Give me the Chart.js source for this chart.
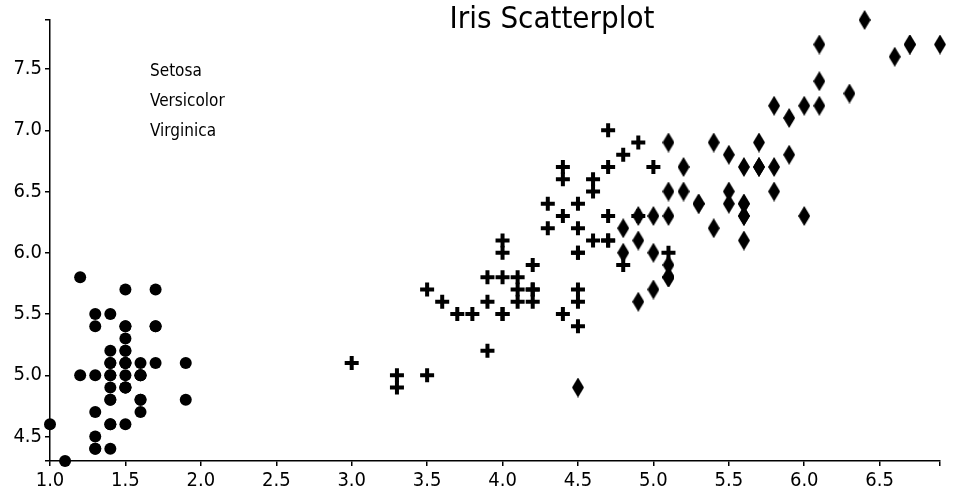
<!DOCTYPE html>
<html>
<head>
<meta charset="utf-8">
<script src="https://cdn.jsdelivr.net/npm/chart.js@4/dist/chart.umd.min.js"></script>
<style>
    html, body { margin: 0; padding: 0; background: #fff; }
    #wrap { width: 960px; height: 500px; }
</style>
</head>
<body>
<div id="wrap"><canvas id="irisChart" width="960" height="500"></canvas></div>
<script>
// petal length (x) and sepal length (y) per species
const setosaPetal = [1.4,1.4,1.3,1.5,1.4,1.7,1.4,1.5,1.4,1.5,1.5,1.6,1.4,1.1,1.2,1.5,1.3,1.4,1.7,1.5,1.7,1.5,1.0,1.7,1.9,1.6,1.6,1.5,1.4,1.6,1.6,1.5,1.5,1.4,1.5,1.2,1.3,1.5,1.3,1.5,1.3,1.3,1.3,1.6,1.9,1.4,1.6,1.4,1.5,1.4];
const setosaSepal = [5.1,4.9,4.7,4.6,5.0,5.4,4.6,5.0,4.4,4.9,5.4,4.8,4.8,4.3,5.8,5.7,5.4,5.1,5.7,5.1,5.4,5.1,4.6,5.1,4.8,5.0,5.0,5.2,5.2,4.7,4.8,5.4,5.2,5.5,4.9,5.0,5.5,4.9,4.4,5.1,5.0,4.5,4.4,5.0,5.1,4.8,5.1,4.6,5.3,5.0];

const versicolorPetal = [4.7,4.5,4.9,4.0,4.6,4.5,4.7,3.3,4.6,3.9,3.5,4.2,4.0,4.7,3.6,4.4,4.5,4.1,4.5,3.9,4.8,4.0,4.9,4.7,4.3,4.4,4.8,5.0,4.5,3.5,3.8,3.7,3.9,5.1,4.5,4.5,4.7,4.4,4.1,4.0,4.4,4.6,4.0,3.3,4.2,4.2,4.2,4.3,3.0,4.1];
const versicolorSepal = [7.0,6.4,6.9,5.5,6.5,5.7,6.3,4.9,6.6,5.2,5.0,5.9,6.0,6.1,5.6,6.7,5.6,5.8,6.2,5.6,5.9,6.1,6.3,6.1,6.4,6.6,6.8,6.7,6.0,5.7,5.5,5.5,5.8,6.0,5.4,6.0,6.7,6.3,5.6,5.5,5.5,6.1,5.8,5.0,5.6,5.7,5.7,6.2,5.1,5.7];

const virginicaPetal = [6.0,5.1,5.9,5.6,5.8,6.6,4.5,6.3,5.8,6.1,5.1,5.3,5.5,5.0,5.1,5.3,5.5,6.7,6.9,5.0,5.7,4.9,6.7,4.9,5.7,6.0,4.8,4.9,5.6,5.8,6.1,6.4,5.6,5.1,5.6,6.1,5.6,5.5,4.8,5.4,5.6,5.1,5.1,5.9,5.7,5.2,5.0,5.2,5.4,5.1];
const virginicaSepal = [6.3,5.8,7.1,6.3,6.5,7.6,4.9,7.3,6.7,7.2,6.5,6.4,6.8,5.7,5.8,6.4,6.5,7.7,7.7,6.0,6.9,5.6,7.7,6.3,6.7,7.2,6.2,6.1,6.4,7.2,7.4,7.9,6.4,6.3,6.1,7.7,6.3,6.4,6.0,6.9,6.7,6.9,5.8,6.8,6.7,6.7,6.3,6.5,6.2,5.9];

const speciesNames = ['Setosa', 'Versicolor', 'Virginica'];
const chartTitle = 'Iris Scatterplot';

const FONT = '"DejaVu Sans Condensed", "Liberation Sans Narrow", sans-serif';

// pair up two arrays into {x, y} points
function toPoints(xs, ys) {
    return xs.map((x, i) => ({ x: x, y: ys[i] }));
}

// tall thin diamond marker
function makeDiamond(w, h) {
    const c = document.createElement('canvas');
    c.width = w;
    c.height = h;
    const g = c.getContext('2d');
    g.fillStyle = '#000';
    g.beginPath();
    g.moveTo(w / 2, 0);
    g.lineTo(w, h / 2);
    g.lineTo(w / 2, h);
    g.lineTo(0, h / 2);
    g.closePath();
    g.fill();
    return c;
}

// title and text-only legend drawn over the plot
const overlayText = {
    id: 'overlayText',
    afterDraw(chart) {
        const ctx = chart.ctx;
        const area = chart.chartArea;
        ctx.save();
        ctx.fillStyle = '#000';
        ctx.textBaseline = 'alphabetic';
        ctx.textAlign = 'center';
        ctx.font = '31px ' + FONT;
        ctx.fillText(chartTitle, 552, 28);

        ctx.textAlign = 'left';
        ctx.font = '17px ' + FONT;
        chart.data.datasets.forEach((ds, i) => {
            ctx.fillText(ds.label, area.left + 100, 76 + i * 30);
        });
        ctx.restore();
    }
};

function tickLabel(value) {
    const v = Math.round(value * 10) / 10;
    return Math.abs(v * 2 - Math.round(v * 2)) < 1e-6 ? v.toFixed(1) : '';
}

const axisStyle = {
    grid: { display: true, drawOnChartArea: false, drawTicks: true, tickLength: 5, color: '#000', lineWidth: 1.5 },
    border: { display: true, color: '#000', width: 1.5 },
    ticks: {
        color: '#000',
        font: { family: FONT, size: 20 },
        padding: 3,
        stepSize: 0.5,
        callback: tickLabel
    }
};

const ctx = document.getElementById('irisChart').getContext('2d');
new Chart(ctx, {
    type: 'scatter',
    data: {
        datasets: [
            {
                label: speciesNames[0],
                data: toPoints(setosaPetal, setosaSepal),
                pointStyle: 'circle',
                pointRadius: 6,
                backgroundColor: '#000',
                borderColor: '#000',
                borderWidth: 0,
                clip: false
            },
            {
                label: speciesNames[1],
                data: toPoints(versicolorPetal, versicolorSepal),
                pointStyle: 'cross',
                pointRadius: 7,
                backgroundColor: '#000',
                borderColor: '#000',
                borderWidth: 4,
                clip: false
            },
            {
                label: speciesNames[2],
                data: toPoints(virginicaPetal, virginicaSepal),
                pointStyle: makeDiamond(12, 20),
                pointRadius: 8,
                backgroundColor: '#000',
                borderColor: '#000',
                clip: false
            }
        ]
    },
    options: {
        responsive: false,
        animation: false,
        events: [],
        layout: { padding: { top: 20, right: 20, left: 0, bottom: 0 } },
        plugins: {
            legend: { display: false },
            title: { display: false },
            tooltip: { enabled: false }
        },
        scales: {
            x: Object.assign({}, axisStyle, {
                type: 'linear',
                min: 1.0,
                max: 6.9,
                afterFit: function(scale) { scale.height = 39; }
            }),
            y: Object.assign({}, axisStyle, {
                type: 'linear',
                min: 4.3,
                max: 7.9,
                afterFit: function(scale) { scale.width = 50; }
            })
        }
    },
    plugins: [overlayText]
});
</script>
</body>
</html>
